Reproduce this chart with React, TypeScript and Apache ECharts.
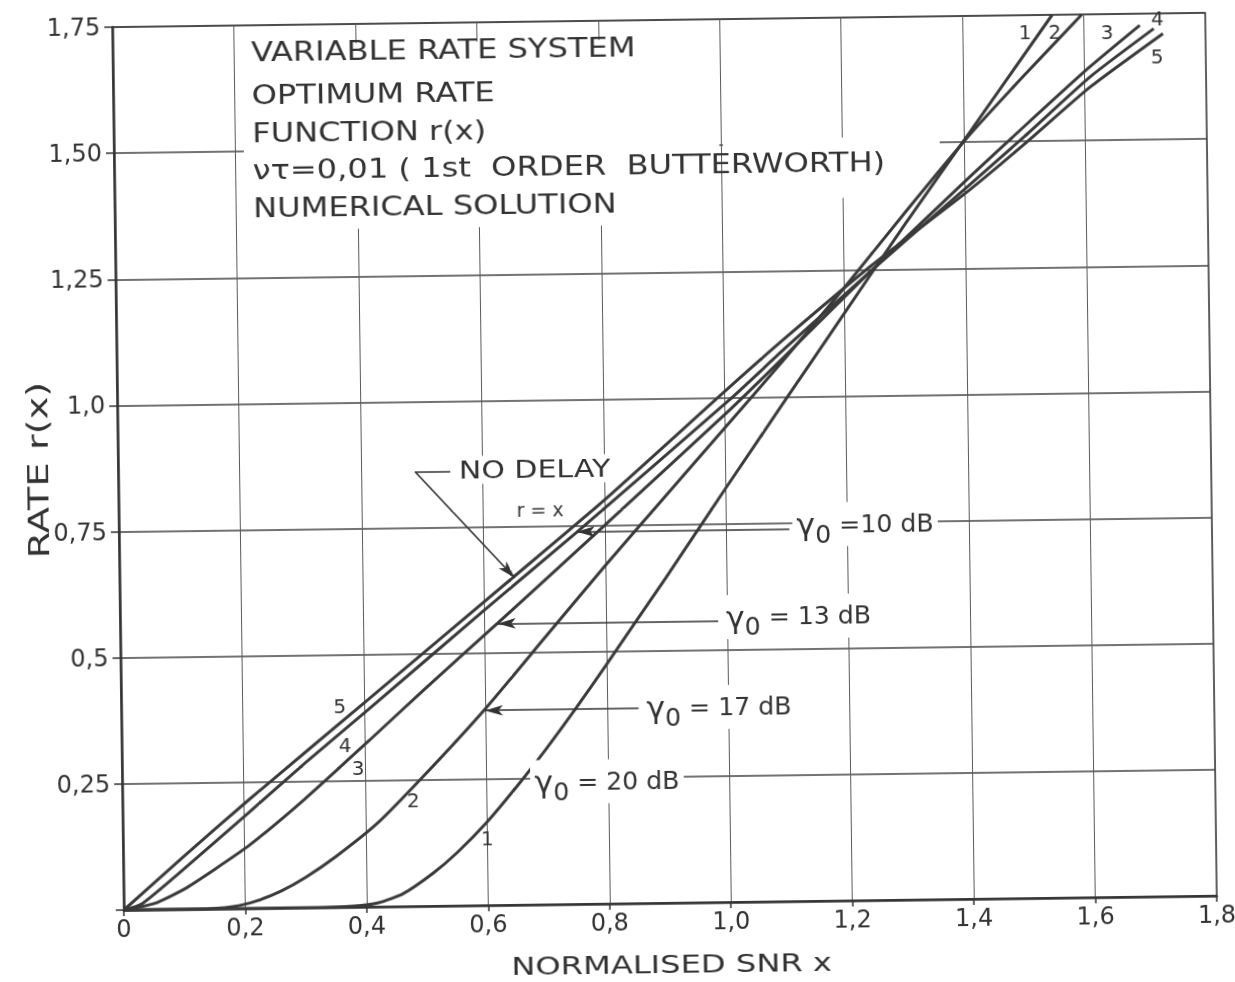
import React, { useEffect, useRef } from 'react';
import * as echarts from 'echarts';

// ---- tick labels ----
const xTickLabels = ['0', '0,2', '0,4', '0,6', '0,8', '1,0', '1,2', '1,4', '1,6', '1,8'];
const yTickLabels = ['', '0,25', '0,5', '0,75', '1,0', '1,25', '1,50', '1,75'];

// ---- curves (normalised SNR x, rate r(x)) ----
const curve1_20dB = [
  [0, 0], [0.3, 0], [0.38, 0.002], [0.42, 0.008], [0.46, 0.025], [0.51, 0.065], [0.55, 0.105],
  [0.6, 0.165], [0.65, 0.235], [0.7, 0.31], [0.75, 0.39], [0.8, 0.474], [0.9, 0.645],
  [1.0, 0.82], [1.1, 0.993], [1.2, 1.165], [1.3, 1.337], [1.41, 1.52], [1.548, 1.75],
];
const curve2_17dB = [
  [0, 0], [0.12, 0], [0.18, 0.004], [0.22, 0.015], [0.26, 0.034], [0.3, 0.06], [0.35, 0.1],
  [0.42, 0.166], [0.5, 0.262], [0.6, 0.39], [0.7, 0.53], [0.8, 0.67], [0.9, 0.805],
  [1.0, 0.94], [1.1, 1.075], [1.2, 1.215], [1.3, 1.36], [1.41, 1.515], [1.5, 1.63], [1.597, 1.75],
];
const curve3_13dB = [
  [0, 0], [0.05, 0.012], [0.1, 0.04], [0.15, 0.078], [0.208, 0.125], [0.3, 0.215], [0.408, 0.33],
  [0.5, 0.43], [0.622, 0.559], [0.8, 0.75], [1.008, 0.975], [1.1, 1.08], [1.242, 1.245],
  [1.408, 1.43], [1.5, 1.53], [1.608, 1.645], [1.692, 1.727],
];
const curve4_10dB = [
  [0, 0], [0.03, 0.012], [0.1, 0.08], [0.208, 0.19], [0.3, 0.285], [0.408, 0.392], [0.6, 0.585],
  [0.754, 0.737], [1.008, 0.995], [1.1, 1.095], [1.242, 1.245], [1.408, 1.415], [1.5, 1.51],
  [1.608, 1.625], [1.715, 1.72],
];
const curve5_noDelay = [
  [0, 0], [0.1, 0.105], [0.208, 0.215], [0.408, 0.412], [0.651, 0.652], [0.8, 0.8],
  [1.008, 1.02], [1.1, 1.115], [1.242, 1.255], [1.408, 1.405], [1.5, 1.495], [1.608, 1.605],
  [1.73, 1.71],
];
const curveNames = ['1', '2', '3', '4', '5'];

// ---- text content ----
const titleLines = [
  'VARIABLE RATE SYSTEM',
  'OPTIMUM RATE',
  'FUNCTION r(x)',
  'ντ=0,01 ( 1st  ORDER  BUTTERWORTH)',
  'NUMERICAL SOLUTION',
];
const titleLineY = [1.697, 1.612, 1.536, 1.463, 1.388];
const titleX = 0.228;

// curve number labels: [text, x, y]
const curveNumberLabels: [string, number, number][] = [
  ['5', 0.36, 0.399], ['4', 0.368, 0.321], ['3', 0.389, 0.275], ['2', 0.479, 0.211], ['1', 0.6, 0.133],
  ['1', 1.503, 1.717], ['2', 1.552, 1.716], ['3', 1.638, 1.714], ['4', 1.721, 1.741], ['5', 1.72, 1.664],
];

// gamma labels: [value text, x, y]
const gammaLabels: [string, number, number][] = [
  ['=10 dB', 1.109, 0.746],
  ['= 13 dB', 0.991, 0.565],
  ['= 17 dB', 0.858, 0.387],
  ['= 20 dB', 0.672, 0.243],
];
// arrows: [from, to]
const gammaArrows: [number[], number[]][] = [
  [[1.104, 0.738], [0.754, 0.738]],
  [[0.985, 0.558], [0.622, 0.558]],
  [[0.852, 0.386], [0.599, 0.386]],
];
const noDelayLabel: [string, number, number] = ['NO DELAY', 0.555, 0.863];
const rEqualsX: [string, number, number] = ['r = x', 0.694, 0.782];
const noDelayLeader = { corner: [0.489, 0.861], end: [0.547, 0.861], tip: [0.651, 0.648] };

// white masks behind the title block (data corners)
const masks: [number[], number[]][] = [
  [[0.214, 1.712], [0.997, 1.344]],
  [[1.003, 1.512], [1.36, 1.393]],
];

const FONT = 'DejaVu Sans';
const INK = '#333';

export default function App() {
  const ref = useRef<HTMLDivElement>(null);
  useEffect(() => {
    if (!ref.current) return;
    const chart = echarts.init(ref.current, null, { renderer: 'svg' });
    const curves = [curve1_20dB, curve2_17dB, curve3_13dB, curve4_10dB, curve5_noDelay];

    const arrowLines: any[] = gammaArrows.map(([a, b]) => [
      { coord: a, symbol: 'none' },
      { coord: b, symbol: 'arrow' },
    ]);
    arrowLines.push([
      { coord: noDelayLeader.corner, symbol: 'none' },
      { coord: noDelayLeader.tip, symbol: 'arrow' },
    ]);
    arrowLines.push([
      { coord: noDelayLeader.corner, symbol: 'none' },
      { coord: noDelayLeader.end, symbol: 'none' },
    ]);

    const option: any = {
      animation: false,
      backgroundColor: '#fff',
      grid: {
        left: 118, right: 24, top: 20, bottom: 79,
        show: true, borderColor: INK, borderWidth: 1.5, backgroundColor: 'transparent',
      },
      xAxis: {
        type: 'value', min: 0, max: 1.8, interval: 0.2,
        axisLine: { show: true, onZero: false, lineStyle: { color: INK, width: 2.5 } },
        axisTick: { show: true, length: 6, lineStyle: { color: INK, width: 1.5 } },
        axisLabel: {
          formatter: (v: number) => xTickLabels[Math.round(v / 0.2)],
          fontSize: 24, color: INK, fontFamily: FONT, margin: 7,
        },
        splitLine: { show: true, lineStyle: { color: '#5a5a5a', width: 1 } },
      },
      yAxis: {
        type: 'value', min: 0, max: 1.75, interval: 0.25,
        axisLine: { show: true, onZero: false, lineStyle: { color: INK, width: 2.5 } },
        axisTick: { show: true, length: 8, lineStyle: { color: INK, width: 1.5 } },
        axisLabel: {
          formatter: (v: number) => yTickLabels[Math.round(v / 0.25)],
          fontSize: 24, color: INK, fontFamily: FONT, margin: 12,
        },
        splitLine: { show: true, lineStyle: { color: '#444', width: 1.5 } },
      },
      series: curves.map((d, i) => ({
        name: curveNames[i],
        type: 'line',
        data: d,
        smooth: 0.2,
        symbol: 'none',
        z: 3,
        lineStyle: { color: '#3a3a3a', width: 3 },
        markLine: i === 4 ? {
          silent: true,
          symbolSize: [8, 18],
          label: { show: false },
          lineStyle: { color: INK, width: 1.6, type: 'solid' },
          data: arrowLines,
        } : undefined,
      })),
    };
    chart.setOption(option);

    const p = (x: number, y: number) => chart.convertToPixel({ gridIndex: 0 }, [x, y]) as number[];
    const graphic: any[] = [];

    masks.forEach(([a, b]) => {
      const pa = p(a[0], a[1]);
      const pb = p(b[0], b[1]);
      graphic.push({
        type: 'rect', z: 1, silent: true,
        shape: { x: pa[0], y: pa[1], width: pb[0] - pa[0], height: pb[1] - pa[1] },
        style: { fill: '#fff' },
      });
    });

    titleLines.forEach((t, i) => {
      const pt = p(titleX, titleLineY[i]);
      graphic.push({
        type: 'text', z: 5, x: pt[0], y: pt[1], scaleX: 1.235,
        style: { text: t, fontSize: 26, fontFamily: FONT, fill: INK, align: 'left', verticalAlign: 'middle' },
      });
    });

    curveNumberLabels.forEach(([t, x, y]) => {
      const pt = p(x, y);
      graphic.push({
        type: 'text', z: 5, x: pt[0], y: pt[1],
        style: { text: t, fontSize: 20, fontFamily: FONT, fill: INK, align: 'center', verticalAlign: 'middle' },
      });
    });

    gammaLabels.forEach(([t, x, y]) => {
      const pt = p(x, y);
      graphic.push({
        type: 'text', z: 5, x: pt[0], y: pt[1], scaleX: 1.05,
        style: {
          text: `{g|γ}{s|0}{t| ${t}}`,
          fontFamily: FONT, fill: INK, align: 'left', verticalAlign: 'middle',
          backgroundColor: '#fff', padding: [0, 4, 0, 4],
          rich: {
            g: { fontSize: 30, fontFamily: FONT, lineHeight: 44, verticalAlign: 'middle' },
            s: { fontSize: 24, fontFamily: FONT, lineHeight: 24, verticalAlign: 'bottom' },
            t: { fontSize: 24, fontFamily: FONT, lineHeight: 44, verticalAlign: 'middle' },
          },
        },
      });
    });

    {
      const pt = p(noDelayLabel[1], noDelayLabel[2]);
      graphic.push({
        type: 'text', z: 5, x: pt[0], y: pt[1], scaleX: 1.25,
        style: {
          text: noDelayLabel[0], fontSize: 24, fontFamily: FONT, fill: INK,
          align: 'left', verticalAlign: 'middle', backgroundColor: '#fff', padding: [2, 3, 2, 3],
        },
      });
      const pr = p(rEqualsX[1], rEqualsX[2]);
      graphic.push({
        type: 'text', z: 5, x: pr[0], y: pr[1],
        style: { text: rEqualsX[0], fontSize: 19, fontFamily: FONT, fill: INK, align: 'center', verticalAlign: 'middle' },
      });
    }

    // axis names
    graphic.push({
      type: 'text', z: 5, x: 665, y: 965, scaleX: 1.34,
      style: { text: 'NORMALISED SNR x', fontSize: 24, fontFamily: FONT, fill: INK, align: 'center', verticalAlign: 'middle' },
    });
    graphic.push({
      type: 'text', z: 5, x: 38, y: 462, rotation: Math.PI / 2, scaleX: 1.37,
      style: { text: 'RATE r(x)', fontSize: 28, fontFamily: FONT, fill: INK, align: 'center', verticalAlign: 'middle' },
    });

    chart.setOption({ graphic });
    return () => chart.dispose();
  }, []);

  return (
    <div
      ref={ref}
      style={{
        position: 'fixed', left: 0, top: 0, width: 1235, height: 982, background: '#fff',
        transform: 'rotate(-0.75deg)', transformOrigin: '660px 461px',
      }}
    />
  );
}
